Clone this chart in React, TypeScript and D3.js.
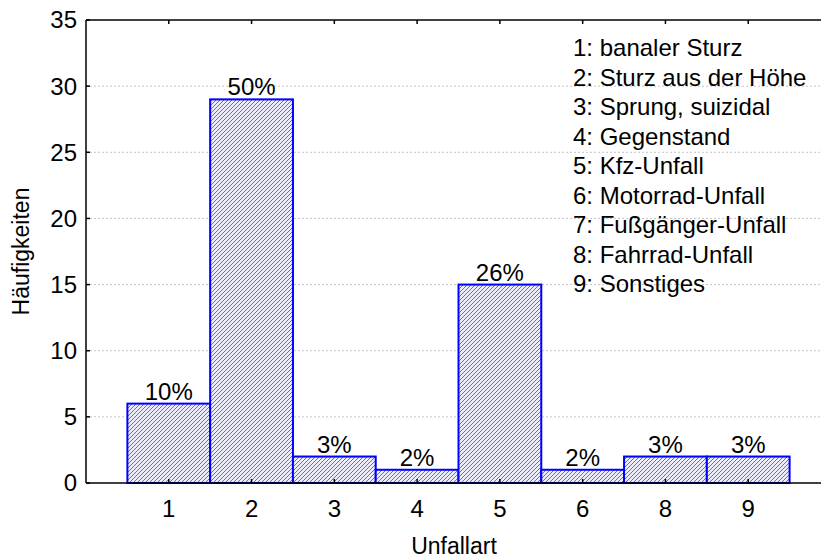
import { scaleBand, scaleLinear } from "d3";

const categories = ["1", "2", "3", "4", "5", "6", "8", "9"];
const counts = [6, 29, 2, 1, 15, 1, 2, 2];
const percents = ["10%", "50%", "3%", "2%", "26%", "2%", "3%", "3%"];
const yTicks = [0, 5, 10, 15, 20, 25, 30, 35];
const legendItems = [
  "1: banaler Sturz",
  "2: Sturz aus der Höhe",
  "3: Sprung, suizidal",
  "4: Gegenstand",
  "5: Kfz-Unfall",
  "6: Motorrad-Unfall",
  "7: Fußgänger-Unfall",
  "8: Fahrrad-Unfall",
  "9: Sonstiges",
];

const width = 821;
const height = 559;
const margin = { top: 20, left: 86, bottom: 76 };
const plotRight = 831;
const font = "'Liberation Sans', Arial, sans-serif";

const App = () => {
  const x = scaleBand()
    .domain(categories)
    .range([margin.left, plotRight])
    .paddingInner(0)
    .paddingOuter(0.5);
  const y = scaleLinear()
    .domain([0, 35])
    .range([height - margin.bottom, margin.top]);
  const y0 = y(0);
  const yTop = y(35);

  return (
    <svg
      width={width}
      height={height}
      style={{ position: "absolute", left: 0, top: 0, background: "#fff" }}
      fontFamily={font}
    >
      <defs>
        <pattern id="hatch" width={4} height={4} patternUnits="userSpaceOnUse">
          <rect width={4} height={4} fill="#ececf8" />
          <path
            d="M-1,1 l2,-2 M0,4 l4,-4 M3,5 l2,-2"
            stroke="#6d6db4"
            strokeWidth={1}
          />
        </pattern>
      </defs>

      {/* grid */}
      {yTicks
        .filter((t) => t > 0 && t < 35)
        .map((t) => (
          <line
            key={t}
            x1={margin.left}
            x2={width}
            y1={y(t)}
            y2={y(t)}
            stroke="#c4c4c4"
            strokeWidth={1}
            strokeDasharray="2,2"
          />
        ))}

      {/* bars */}
      {categories.map((c, i) => (
        <rect
          key={c}
          x={x(c)}
          y={y(counts[i])}
          width={x.bandwidth()}
          height={y0 - y(counts[i])}
          fill="url(#hatch)"
          stroke="#0000ff"
          strokeWidth={2}
        />
      ))}

      {/* percent labels */}
      {categories.map((c, i) => (
        <text
          key={c}
          x={x(c)! + x.bandwidth() / 2}
          y={y(counts[i]) - 4}
          textAnchor="middle"
          fontSize={24}
          fill="#000"
        >
          {percents[i]}
        </text>
      ))}

      {/* frame */}
      <line x1={margin.left} x2={width} y1={yTop} y2={yTop} stroke="#000" strokeWidth={1.5} />
      <line x1={margin.left} x2={width} y1={y0} y2={y0} stroke="#000" strokeWidth={1.5} />
      <line x1={margin.left} x2={margin.left} y1={yTop} y2={y0} stroke="#000" strokeWidth={1.5} />

      {/* x ticks */}
      {categories.map((c) => {
        const cx = x(c)! + x.bandwidth() / 2;
        return (
          <g key={c}>
            <line x1={cx} x2={cx} y1={y0} y2={y0 - 4} stroke="#000" strokeWidth={1.5} />
            <line x1={cx} x2={cx} y1={yTop} y2={yTop + 4} stroke="#000" strokeWidth={1.5} />
            <text x={cx} y={517} textAnchor="middle" fontSize={24}>
              {c}
            </text>
          </g>
        );
      })}

      {/* y ticks */}
      {yTicks.map((t) => (
        <g key={t}>
          <line
            x1={margin.left}
            x2={margin.left + 4}
            y1={y(t)}
            y2={y(t)}
            stroke="#000"
            strokeWidth={1.5}
          />
          <text
            x={77}
            y={y(t)}
            dy="0.35em"
            textAnchor="end"
            fontSize={24}
          >
            {t}
          </text>
        </g>
      ))}

      {/* axis titles */}
      <text x={454} y={554} textAnchor="middle" fontSize={23}>
        Unfallart
      </text>
      <text
        transform={`translate(29, ${(yTop + y0) / 2}) rotate(-90)`}
        textAnchor="middle"
        fontSize={23}
      >
        Häufigkeiten
      </text>

      {/* legend */}
      {legendItems.map((d, i) => (
        <text key={d} x={573} y={56 + i * 29.5} fontSize={24}>
          {d}
        </text>
      ))}
    </svg>
  );
};

export default App;
